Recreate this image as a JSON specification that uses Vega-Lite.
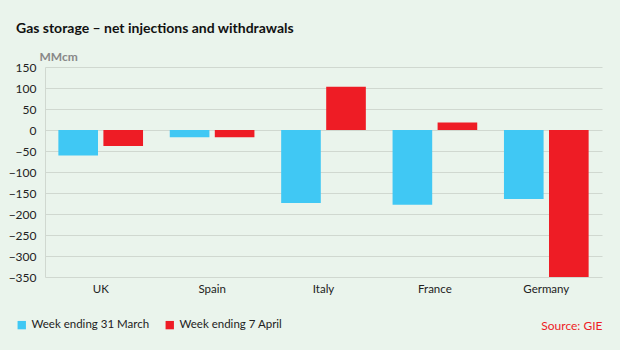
{
  "$schema": "https://vega.github.io/schema/vega-lite/v6.json",
  "width": 557,
  "height": 210,
  "autosize": {"type": "none"},
  "padding": {"left": 45, "top": 67, "right": 18, "bottom": 73},
  "background": "#eaf4ec",
  "title": {
    "text": "Gas storage – net injections and withdrawals",
    "anchor": "start",
    "frame": "group",
    "font": "Lato",
    "fontSize": 14,
    "fontWeight": "bold",
    "color": "#111111",
    "dx": -29,
    "offset": 14
  },
  "data": {
    "values": [
      {"country": "UK", "week": "Week ending 31 March", "value": -61},
      {"country": "UK", "week": "Week ending 7 April", "value": -38},
      {"country": "Spain", "week": "Week ending 31 March", "value": -17},
      {"country": "Spain", "week": "Week ending 7 April", "value": -17},
      {"country": "Italy", "week": "Week ending 31 March", "value": -174},
      {"country": "Italy", "week": "Week ending 7 April", "value": 103},
      {"country": "France", "week": "Week ending 31 March", "value": -178},
      {"country": "France", "week": "Week ending 7 April", "value": 18},
      {"country": "Germany", "week": "Week ending 31 March", "value": -164},
      {"country": "Germany", "week": "Week ending 7 April", "value": -350}
    ]
  },
  "mark": {"type": "bar", "clip": true},
  "encoding": {
    "x": {
      "field": "country",
      "type": "nominal",
      "sort": ["UK", "Spain", "Italy", "France", "Germany"],
      "scale": {"paddingInner": 0.24, "paddingOuter": 0.12},
      "axis": {
        "title": "Source: GIE",
        "titleColor": "#ee1c25",
        "titleFont": "Lato",
        "titleFontSize": 12,
        "titleFontWeight": "normal",
        "titleAnchor": "end",
        "titleBaseline": "middle",
        "titleY": 48,
        "labelAngle": 0,
        "labelFont": "Lato",
        "labelFontSize": 11.5,
        "labelColor": "#222222",
        "labelPadding": 6,
        "ticks": false,
        "domain": false
      }
    },
    "xOffset": {
      "field": "week",
      "type": "nominal",
      "scale": {"paddingInner": 0.12}
    },
    "y": {
      "field": "value",
      "type": "quantitative",
      "scale": {"domain": [-350, 150], "nice": false},
      "axis": {
        "values": [-350, -300, -250, -200, -150, -100, -50, 0, 50, 100, 150],
        "title": "MMcm",
        "titleAngle": 0,
        "titleAlign": "left",
        "titleBaseline": "middle",
        "titleX": -6,
        "titleY": -11,
        "titleColor": "#888888",
        "titleFont": "Lato",
        "titleFontSize": 12,
        "titleFontWeight": "bold",
        "labelFont": "Lato",
        "labelFontSize": 12,
        "labelColor": "#222222",
        "labelPadding": 9,
        "ticks": false,
        "domainColor": "#d0d8d0",
        "gridColor": "#d0d8d0",
        "gridWidth": 1
      }
    },
    "color": {
      "field": "week",
      "type": "nominal",
      "scale": {
        "domain": ["Week ending 31 March", "Week ending 7 April"],
        "range": ["#40c8f4", "#ee1c25"]
      },
      "legend": {
        "title": null,
        "orient": "none",
        "direction": "horizontal",
        "legendX": -29,
        "legendY": 252,
        "symbolType": "square",
        "symbolSize": 70,
        "symbolStrokeWidth": 0,
        "labelFont": "Lato",
        "labelFontSize": 11.5,
        "labelColor": "#222222",
        "labelOffset": 4,
        "columnPadding": 14
      }
    }
  },
  "config": {"view": {"stroke": null}}
}
